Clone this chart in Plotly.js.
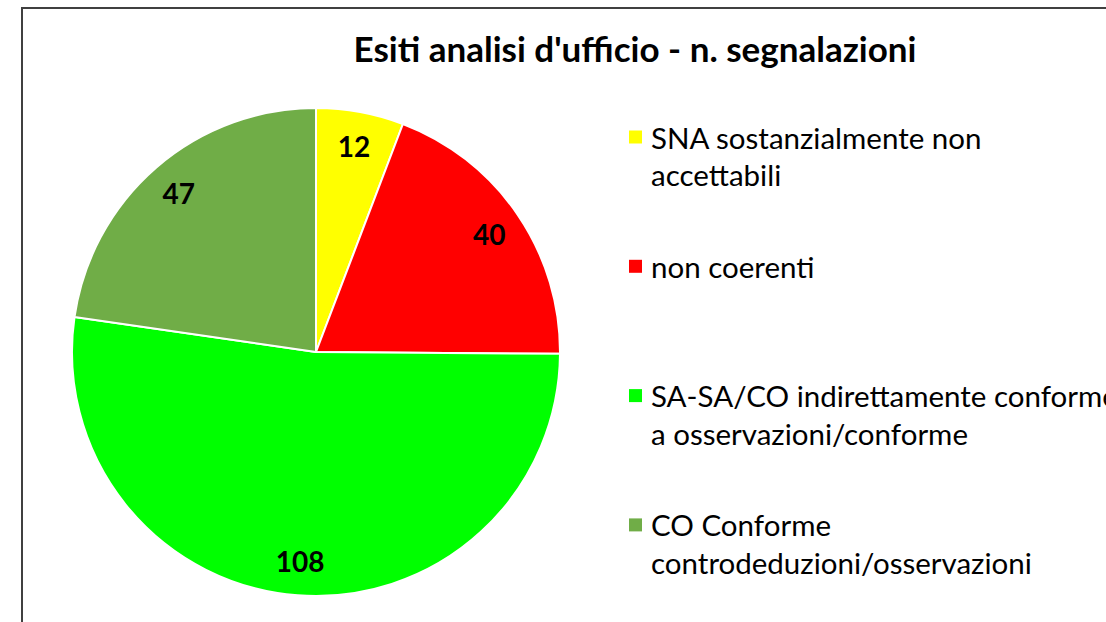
<!DOCTYPE html>
<html><head><meta charset="utf-8">
<script src="https://cdn.plot.ly/plotly-3.0.1.min.js"></script>
<style>html,body{margin:0;padding:0;background:#fff}#chart{width:1106px;height:622px}</style>
</head><body><div id="chart"></div>
<script>
const titleText = "Esiti analisi d'ufficio - n. segnalazioni";
const labels = ["SNA sostanzialmente non<br>accettabili", "non coerenti", "SA-SA/CO indirettamente conforme<br>a osservazioni/conforme", "CO Conforme<br>controdeduzioni/osservazioni"];
const values = [12, 40, 108, 47];
const colors = ["#FFFF00", "#FF0000", "#00FF00", "#70AD47"];

const W = 1106, H = 622;
const px = x => x / W, py = y => 1 - y / H;
const dom = {x: [px(72), px(560)], y: [py(596), py(108)]};
const FONT = "Lato, 'Open Sans', sans-serif";

const traces = [
  {type: 'pie', values: values, labels: labels, sort: false, direction: 'clockwise', rotation: 0,
   marker: {colors: colors, line: {color: '#ffffff', width: 2}}, textinfo: 'none', showlegend: false,
   domain: dom, hoverinfo: 'label+value'},
  {type: 'pie', values: values, labels: labels, sort: false, direction: 'clockwise', rotation: 0, hole: 0.72,
   marker: {colors: colors.map(() => 'rgba(0,0,0,0)'), line: {width: 0}}, textinfo: 'value', textposition: 'inside',
   insidetextorientation: 'horizontal', textfont: {family: FONT, size: 28, color: '#000', weight: 'bold'},
   showlegend: false, domain: dom, hoverinfo: 'skip'}
];

const annotations = [], shapes = [];
shapes.push({type: 'rect', xref: 'paper', yref: 'paper', x0: px(22), x1: 1.05, y0: -0.05, y1: py(8),
  line: {color: '#404040', width: 2}, fillcolor: 'rgba(0,0,0,0)'});
labels.forEach((lab, i) => {
  const y0 = 137 + i * 129.3;
  shapes.push({type: 'rect', xref: 'paper', yref: 'paper', x0: px(629), x1: px(642), y0: py(y0 + 6.5), y1: py(y0 - 6.5),
    fillcolor: colors[i], line: {width: 0}});
  lab.split('<br>').forEach((ln, j) => {
    annotations.push({xref: 'paper', yref: 'paper', x: px(649), y: py(y0 + j * 38), xanchor: 'left', yanchor: 'middle',
      text: ln, showarrow: false, font: {family: FONT, size: 29.5, color: '#000'}});
  });
});

const layout = {
  width: W, height: H, margin: {l: 0, r: 0, t: 0, b: 0}, paper_bgcolor: '#fff',
  title: {text: '<b>' + titleText + '</b>', x: px(635), xanchor: 'center', y: py(50), yanchor: 'middle',
    font: {family: FONT, size: 35, color: '#000'}},
  shapes: shapes, annotations: annotations, showlegend: false
};
Plotly.newPlot('chart', traces, layout, {displayModeBar: false, staticPlot: true});
</script></body></html>
